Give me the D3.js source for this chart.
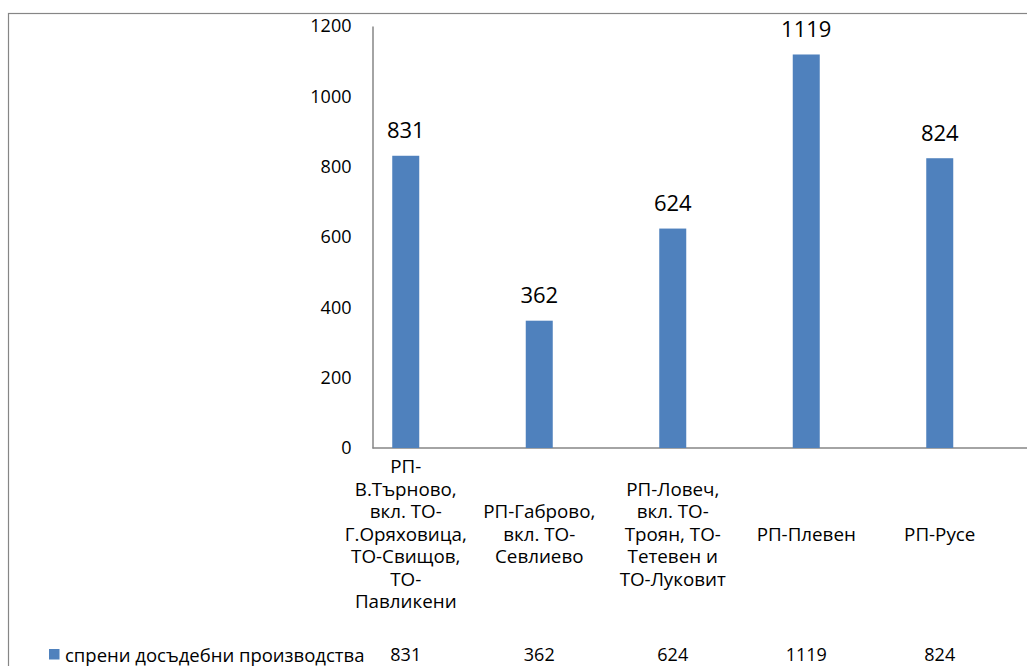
<!DOCTYPE html>
<html>
<head>
<meta charset="utf-8">
<script src="https://cdn.jsdelivr.net/npm/d3@7"></script>
<style>
  body { margin: 0; background: #fff; }
  svg { display: block; font-family: "Open Sans", "Noto Sans", sans-serif; }
</style>
</head>
<body>
<div id="chart"></div>
<script>
// category labels, already broken in lines as in the picture
const categories = [
  ["РП-", "В.Търново,", "вкл. ТО-", "Г.Оряховица,", "ТО-Свищов,", "ТО-", "Павликени"],
  ["РП-Габрово,", "вкл. ТО-", "Севлиево"],
  ["РП-Ловеч,", "вкл. ТО-", "Троян, ТО-", "Тетевен и", "ТО-Луковит"],
  ["РП-Плевен"],
  ["РП-Русе"]
];
const values = [831, 362, 624, 1119, 824];
const seriesName = "спрени досъдебни производства";
const yTicks = [0, 200, 400, 600, 800, 1000, 1200];

const W = 1027, H = 666;
const barColor = "#4f81bd";
const lineColor = "#868686";

const svg = d3.select("#chart").append("svg")
  .attr("width", W)
  .attr("height", H);

// outer chart frame (runs off the right and bottom edges)
svg.append("rect")
  .attr("x", 8.5).attr("y", 13.5)
  .attr("width", W + 20).attr("height", H + 20)
  .attr("fill", "none")
  .attr("stroke", lineColor)
  .attr("stroke-width", 1.2);

const x = d3.scaleBand()
  .domain(d3.range(values.length))
  .range([339, 1006.5]);

const y = d3.scaleLinear()
  .domain([0, 1200])
  .range([448, 26]);

const barW = 27;
const cx = i => x(i) + x.bandwidth() / 2;

// y axis
const yAxis = svg.append("g")
  .attr("transform", "translate(372.5,0)")
  .call(d3.axisLeft(y).tickValues(yTicks).tickFormat(d3.format("d")).tickSize(0).tickPadding(21));
yAxis.select(".domain").attr("stroke", lineColor).attr("stroke-width", 1.5);
yAxis.selectAll("text")
  .attr("font-size", 18)
  .attr("font-family", "Open Sans, sans-serif")
  .attr("fill", "#000");

// baseline
svg.append("line")
  .attr("x1", 372.5).attr("x2", W)
  .attr("y1", y(0)).attr("y2", y(0))
  .attr("stroke", lineColor)
  .attr("stroke-width", 1.5);

// bars
svg.selectAll("rect.bar")
  .data(values)
  .enter().append("rect")
  .attr("class", "bar")
  .attr("x", (d, i) => cx(i) - barW / 2)
  .attr("y", d => y(d))
  .attr("width", barW)
  .attr("height", d => y(0) - y(d))
  .attr("fill", barColor);

// data labels
svg.selectAll("text.dl")
  .data(values)
  .enter().append("text")
  .attr("class", "dl")
  .attr("x", (d, i) => cx(i))
  .attr("y", d => y(d) - 17.5)
  .attr("text-anchor", "middle")
  .attr("font-size", 22)
  .attr("fill", "#000")
  .text(d => d);

// category labels, centred vertically on one line
const lineH = 22.5;
const catMid = 534;
svg.selectAll("text.cat")
  .data(categories)
  .enter().append("text")
  .attr("class", "cat")
  .attr("text-anchor", "middle")
  .attr("font-size", 18.8)
  .attr("fill", "#000")
  .each(function (lines, i) {
    const t = d3.select(this);
    const top = catMid - (lines.length - 1) * lineH / 2;
    lines.forEach((ln, k) => {
      t.append("tspan")
        .attr("x", cx(i))
        .attr("y", top + k * lineH)
        .attr("dy", "0.36em")
        .text(ln);
    });
  });

// data table row
const rowY = 655;
svg.append("rect")
  .attr("x", 49).attr("y", rowY - 6)
  .attr("width", 10.5).attr("height", 10.5)
  .attr("fill", barColor);
svg.append("text")
  .attr("x", 65).attr("y", rowY)
  .attr("dy", "0.36em")
  .attr("font-size", 18.5)
  .attr("fill", "#000")
  .text(seriesName);
svg.selectAll("text.tv")
  .data(values)
  .enter().append("text")
  .attr("class", "tv")
  .attr("x", (d, i) => cx(i))
  .attr("y", rowY)
  .attr("dy", "0.36em")
  .attr("text-anchor", "middle")
  .attr("font-size", 18)
  .attr("fill", "#000")
  .text(d => d);
</script>
</body>
</html>
